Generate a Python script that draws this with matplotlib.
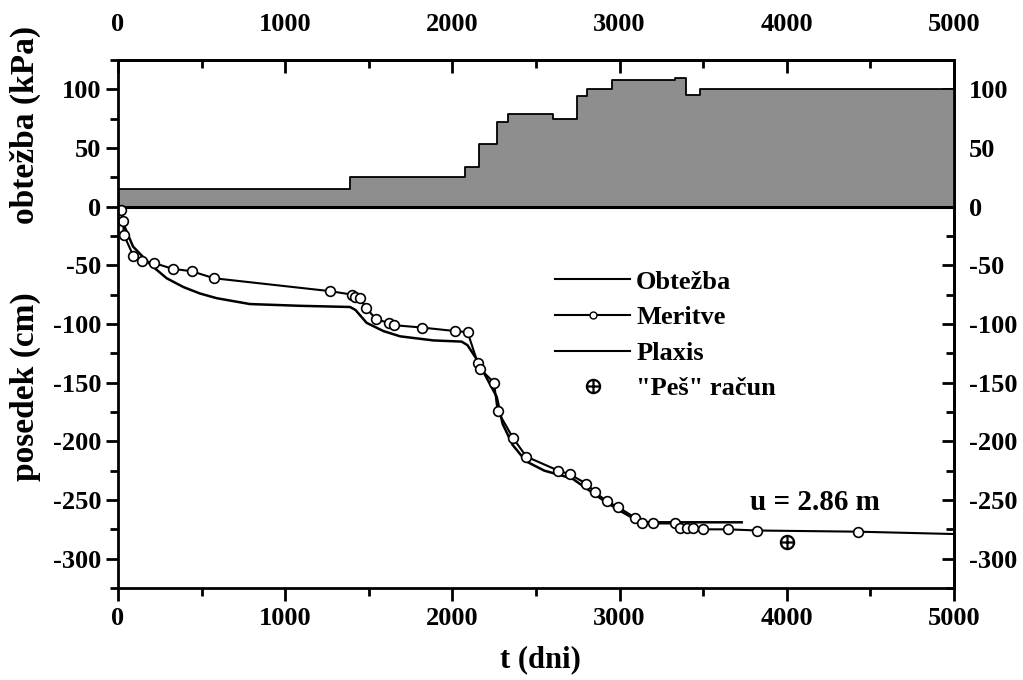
import numpy as np
import matplotlib.pyplot as plt
from matplotlib.lines import Line2D
from matplotlib.path import Path
from matplotlib.ticker import MultipleLocator

# load history (step function), kPa
load_t = [0, 1390, 2075, 2160, 2265, 2335, 2600, 2745, 2805, 2955, 3330, 3400, 3480, 5000]
load_q = [15, 25, 34, 53, 72, 79, 75, 94, 100, 108, 110, 95, 100, 100]

# measured settlement, cm
meas_t = [15, 30, 35, 92, 142, 215, 327, 440, 574, 1268, 1402, 1417, 1447, 1483,
          1543, 1619, 1651, 1816, 2015, 2091, 2151, 2165, 2249, 2270, 2362, 2442,
          2634, 2701, 2800, 2850, 2922, 2990, 3092, 3132, 3202, 3331, 3361, 3405,
          3441, 3500, 3650, 3822, 4425]
meas_s = [-3, -12, -24, -42, -46, -48, -53, -55, -61, -72, -75, -77, -78, -86,
          -96, -99, -101, -103, -106, -107, -133, -138, -150, -174, -197, -213,
          -225, -228, -236, -243, -251, -256, -265, -270, -270, -270, -274, -274,
          -274, -275, -275, -276, -277]
# measured trend carried on to the end of the time axis
meas_end_t = 5000
meas_end_s = -279

# Plaxis calculation, cm
plx_t = [0, 16, 42, 90, 191, 291, 391, 490, 590, 789, 1089, 1388, 1420, 1487,
         1587, 1687, 1886, 2055, 2090, 2145, 2265, 2300, 2360, 2440, 2550, 2650,
         2720, 2800, 2900, 3000, 3100, 3150, 3730]
plx_s = [0, -3, -18, -34, -49, -61, -68.5, -74, -78, -83, -84.5, -85.5, -88, -99,
         -106, -110.5, -114, -115, -118, -130, -162, -185, -203, -217, -225, -229,
         -232, -240, -250, -259, -267, -269, -269]

# hand calculation of final settlement
pes_t = 4000
pes_s = -286

plt.rcParams['font.family'] = ['Liberation Serif', 'DejaVu Serif']
plt.rcParams['font.weight'] = 'bold'
plt.rcParams['axes.unicode_minus'] = False

fig = plt.figure(figsize=(10.23, 6.80), dpi=100)
ax = fig.add_axes([118 / 1023, 1 - 588 / 680, 836 / 1023, 528 / 680])

# circled plus marker
circ = Path.unit_circle()
cross = Path([(-1, 0), (1, 0), (0, -1), (0, 1)],
             [Path.MOVETO, Path.LINETO, Path.MOVETO, Path.LINETO])
oplus = Path.make_compound_path(circ, cross)

ax.fill_between(load_t, 0, load_q, step='post', color='#8e8e8e', linewidth=0)
ax.step(load_t, load_q, where='post', color='k', lw=1.3)
ax.axhline(0, color='k', lw=2.2)

ax.plot(plx_t, plx_s, color='k', lw=1.8)
ax.plot(meas_t + [meas_end_t], meas_s + [meas_end_s], color='k', lw=1.5)
ax.plot(meas_t, meas_s, 'o', ms=7, mfc='white', mec='k', mew=1.2)
ax.plot([pes_t], [pes_s], marker=oplus, ls='none', ms=9.5, mfc='none', mec='k', mew=1.6)

ax.text(3780, pes_s + 34, f'u = {abs(pes_s) / 100:.2f} m', fontsize=21,
        fontweight='bold', ha='left', va='center')

ax.set_xlim(0, 5000)
ax.set_ylim(-325, 125)

ax.xaxis.set_major_locator(MultipleLocator(1000))
ax.xaxis.set_minor_locator(MultipleLocator(500))
ax.yaxis.set_major_locator(MultipleLocator(50))
ax.yaxis.set_minor_locator(MultipleLocator(25))
ax.tick_params(axis='both', which='both', direction='out', width=2, labelsize=19)
ax.tick_params(axis='both', which='major', length=9)
ax.tick_params(axis='both', which='minor', length=6)
ax.tick_params(axis='x', pad=5)
ax.tick_params(axis='y', pad=3)

top = ax.secondary_xaxis('top')
top.xaxis.set_major_locator(MultipleLocator(1000))
top.xaxis.set_minor_locator(MultipleLocator(500))
top.tick_params(which='both', direction='in', width=2, labelsize=19, pad=17)
top.tick_params(which='major', length=9)
top.tick_params(which='minor', length=6)

right = ax.secondary_yaxis('right')
right.yaxis.set_major_locator(MultipleLocator(50))
right.yaxis.set_minor_locator(MultipleLocator(25))
right.tick_params(which='both', direction='in', width=2, labelsize=19, pad=11)
right.tick_params(which='major', length=9)
right.tick_params(which='minor', length=6)

for a in (ax, top, right):
    for sp in a.spines.values():
        sp.set_linewidth(2)

ax.text(-0.111, 0.877, 'obtežba (kPa)', transform=ax.transAxes, rotation=90,
        fontsize=24, fontweight='bold', ha='center', va='center')
ax.text(-0.111, 0.381, 'posedek (cm)', transform=ax.transAxes, rotation=90,
        fontsize=24, fontweight='bold', ha='center', va='center')
ax.text(0.505, -0.135, 't (dni)', transform=ax.transAxes,
        fontsize=22, fontweight='bold', ha='center', va='center')

handles = [
    Line2D([], [], color='k', lw=1.5),
    Line2D([], [], color='k', lw=1.5, marker='o', ms=5, mfc='white', mec='k', mew=1),
    Line2D([], [], color='k', lw=1.5),
    Line2D([], [], ls='none', marker=oplus, ms=9.5, mfc='none', mec='k', mew=1.6),
]
labels = ['Obtežba', 'Meritve', 'Plaxis', '"Peš" račun']
ax.legend(handles, labels, loc='upper left', bbox_to_anchor=(0.523, 0.602),
          frameon=False, handlelength=2.85, handletextpad=0.22,
          labelspacing=0.46, borderpad=0, borderaxespad=0,
          prop={'weight': 'bold', 'size': 19})

fig.savefig('out.png', dpi=100)
